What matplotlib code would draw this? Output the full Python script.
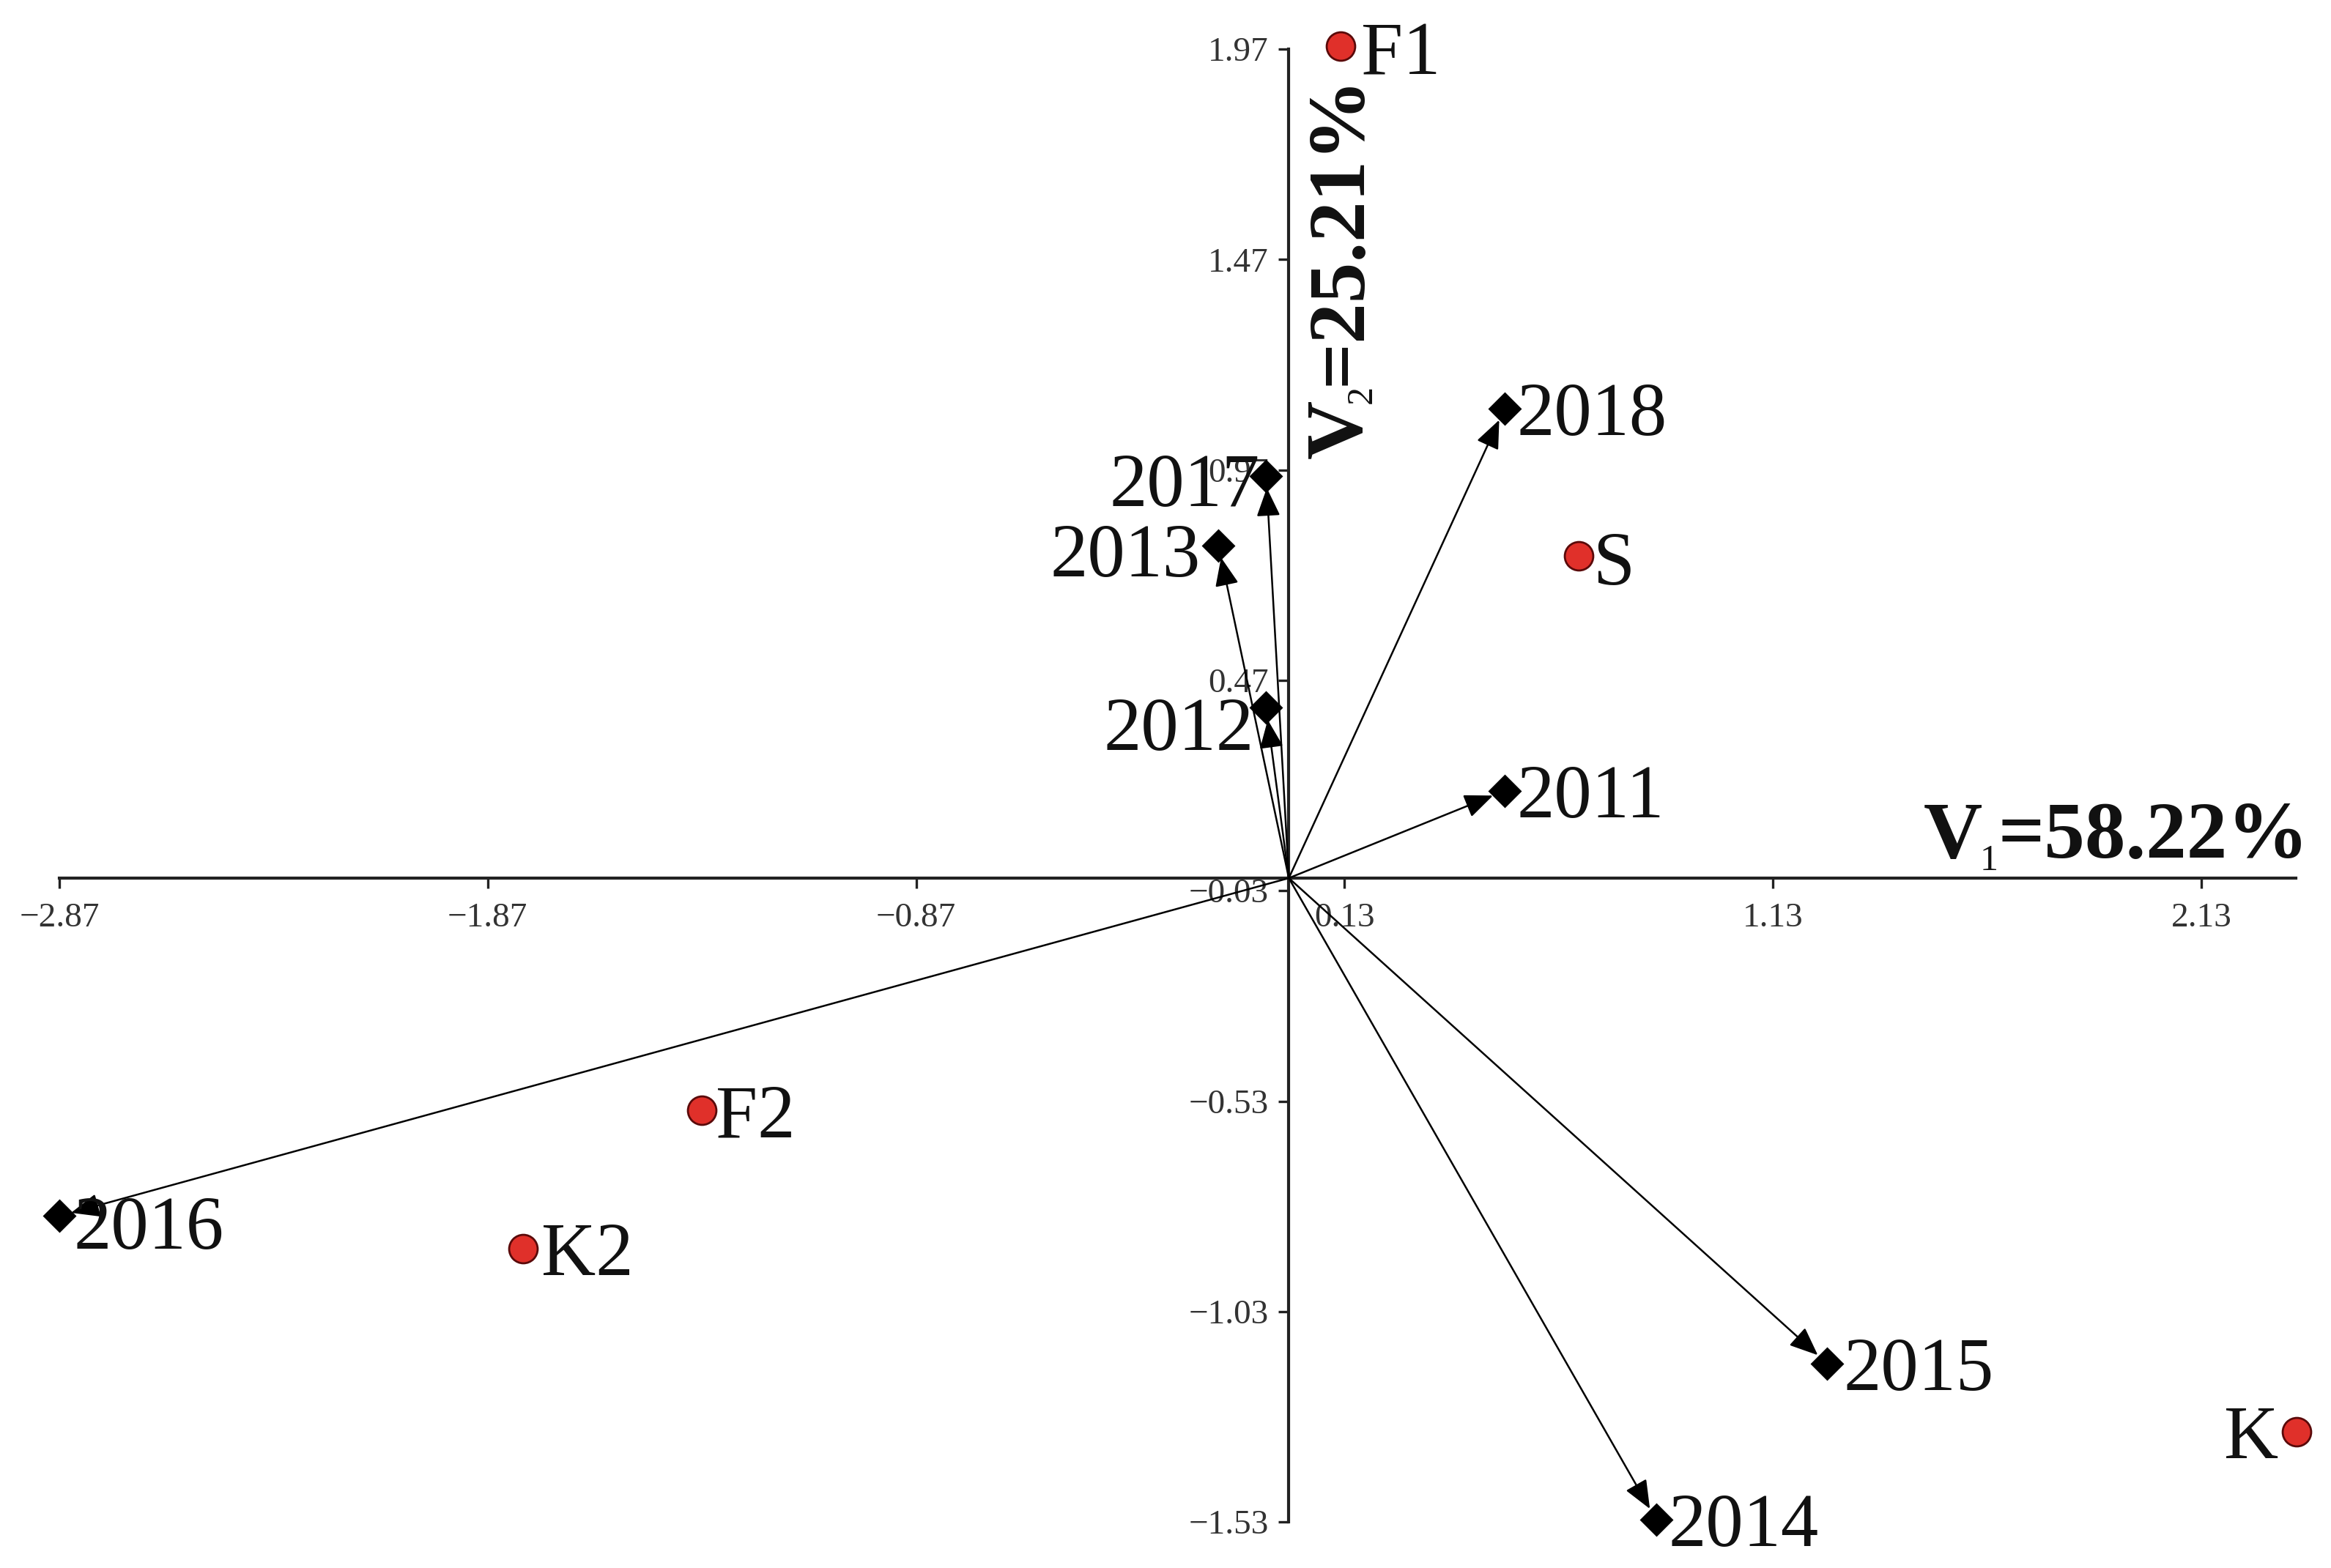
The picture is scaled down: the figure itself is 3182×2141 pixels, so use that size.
import matplotlib
matplotlib.use("Agg")
import matplotlib.pyplot as plt

# biplot scores
years = ["2011", "2012", "2013", "2014", "2015", "2016", "2017", "2018"]
year_x = [0.503, -0.053, -0.164, 0.857, 1.256, -2.87, -0.053, 0.503]
year_y = [0.207, 0.405, 0.790, -1.524, -1.153, -0.803, 0.956, 1.115]

sites = ["F1", "S", "F2", "K2", "K"]
site_x = [0.121, 0.676, -1.371, -1.787, 2.352]
site_y = [1.977, 0.765, -0.552, -0.881, -1.315]

xticks = [-2.87, -1.87, -0.87, 0.13, 1.13, 2.13]
yticks = [1.97, 1.47, 0.97, 0.47, -0.03, -0.53, -1.03, -1.53]

# axis titles: letter, subscript, rest
v1_parts = ("V", "1", "=58.22%")
v2_parts = ("V", "2", "=25.21%")

# label offsets (points) and side, per label
year_off = {"2011": (6, 0, "left"), "2012": (-6, -8, "right"), "2013": (-9, -2, "right"),
            "2014": (6, 0, "left"), "2015": (8, 0, "left"), "2016": (7, -3, "left"),
            "2017": (-3, -2, "right"), "2018": (6, 0, "left")}
site_off = {"F1": (10, -1, "left"), "S": (7, -1, "left"), "F2": (7, 0, "left"),
            "K2": (9, 0, "left"), "K": (-9, 0, "right")}

plt.rcParams["font.family"] = ["Liberation Serif", "DejaVu Serif"]

fig = plt.figure(figsize=(15.91, 10.705), dpi=200)
ax = fig.add_axes([0, 0, 1, 1])
ax.set_xlim(-3.0085, 2.4327)
ax.set_ylim(-1.6394, 2.0866)

for s in ["top", "right"]:
    ax.spines[s].set_visible(False)
ax.spines["left"].set_position(("data", 0))
ax.spines["bottom"].set_position(("data", 0))
ax.spines["left"].set_bounds(-1.53, 1.97)
ax.spines["bottom"].set_bounds(-2.87, 2.35)
for s in ["left", "bottom"]:
    ax.spines[s].set_linewidth(1.5)
    ax.spines[s].set_color("#222222")

fmt = lambda v: f"{v:.2f}".replace("-", "\u2212")
ax.set_xticks(xticks, labels=[fmt(v) for v in xticks])
ax.set_yticks(yticks, labels=[fmt(v) for v in yticks])
ax.tick_params(axis="both", direction="out", length=5, width=1.2, colors="#222222",
               labelsize=17, labelcolor="#333333")
ax.tick_params(axis="x", pad=7)
ax.tick_params(axis="y", pad=5)

# arrows from origin to year scores
for x, y in zip(year_x, year_y):
    ax.annotate("", xy=(x, y), xytext=(0, 0),
                arrowprops=dict(arrowstyle="-|>,head_length=0.6,head_width=0.25",
                                mutation_scale=20, lw=0.9, color="black",
                                shrinkA=0, shrinkB=6))

ax.plot(year_x, year_y, linestyle="none", marker="D", markersize=10.5,
        color="black", zorder=4)
ax.plot(site_x, site_y, linestyle="none", marker="o", markersize=14,
        markerfacecolor="#e0302a", markeredgecolor="#5a0a0a", markeredgewidth=1.0,
        zorder=4)

for lab, x, y in zip(years, year_x, year_y):
    dx, dy, ha = year_off[lab]
    ax.annotate(lab, (x, y), xytext=(dx, dy), textcoords="offset points",
                ha=ha, va="center_baseline", fontsize=37, color="#111111", zorder=5)
for lab, x, y in zip(sites, site_x, site_y):
    dx, dy, ha = site_off[lab]
    ax.annotate(lab, (x, y), xytext=(dx, dy), textcoords="offset points",
                ha=ha, va="center_baseline", fontsize=37, color="#111111", zorder=5)

big = dict(fontsize=40, fontweight="bold", color="#111111")
small = dict(fontsize=18, color="#111111")

# horizontal axis title, baseline at y=0.048
x0, base = 1.481, 0.048
a = ax.text(x0, base, v1_parts[0], ha="left", va="baseline", **big)
b = ax.annotate(v1_parts[1], xy=(1, base), xycoords=(a, "data"), xytext=(-1, -6),
                textcoords="offset points", ha="left", va="baseline", **small)
ax.annotate(v1_parts[2], xy=(1, base), xycoords=(b, "data"), xytext=(0, 0),
            textcoords="offset points", ha="left", va="baseline", **big)

# vertical axis title, baseline at x=0.168
base, y0 = 0.168, 0.997
a = ax.text(base, y0, v2_parts[0], rotation=90, rotation_mode="anchor",
            ha="left", va="baseline", **big)
b = ax.annotate(v2_parts[1], xy=(base, 1), xycoords=("data", a), xytext=(5, -2),
                textcoords="offset points", rotation=90, rotation_mode="anchor",
                ha="left", va="baseline", **small)
ax.annotate(v2_parts[2], xy=(base, 1), xycoords=("data", b), xytext=(0, 0),
            textcoords="offset points", rotation=90, rotation_mode="anchor",
            ha="left", va="baseline", **big)

fig.savefig("out.png", dpi=200)
